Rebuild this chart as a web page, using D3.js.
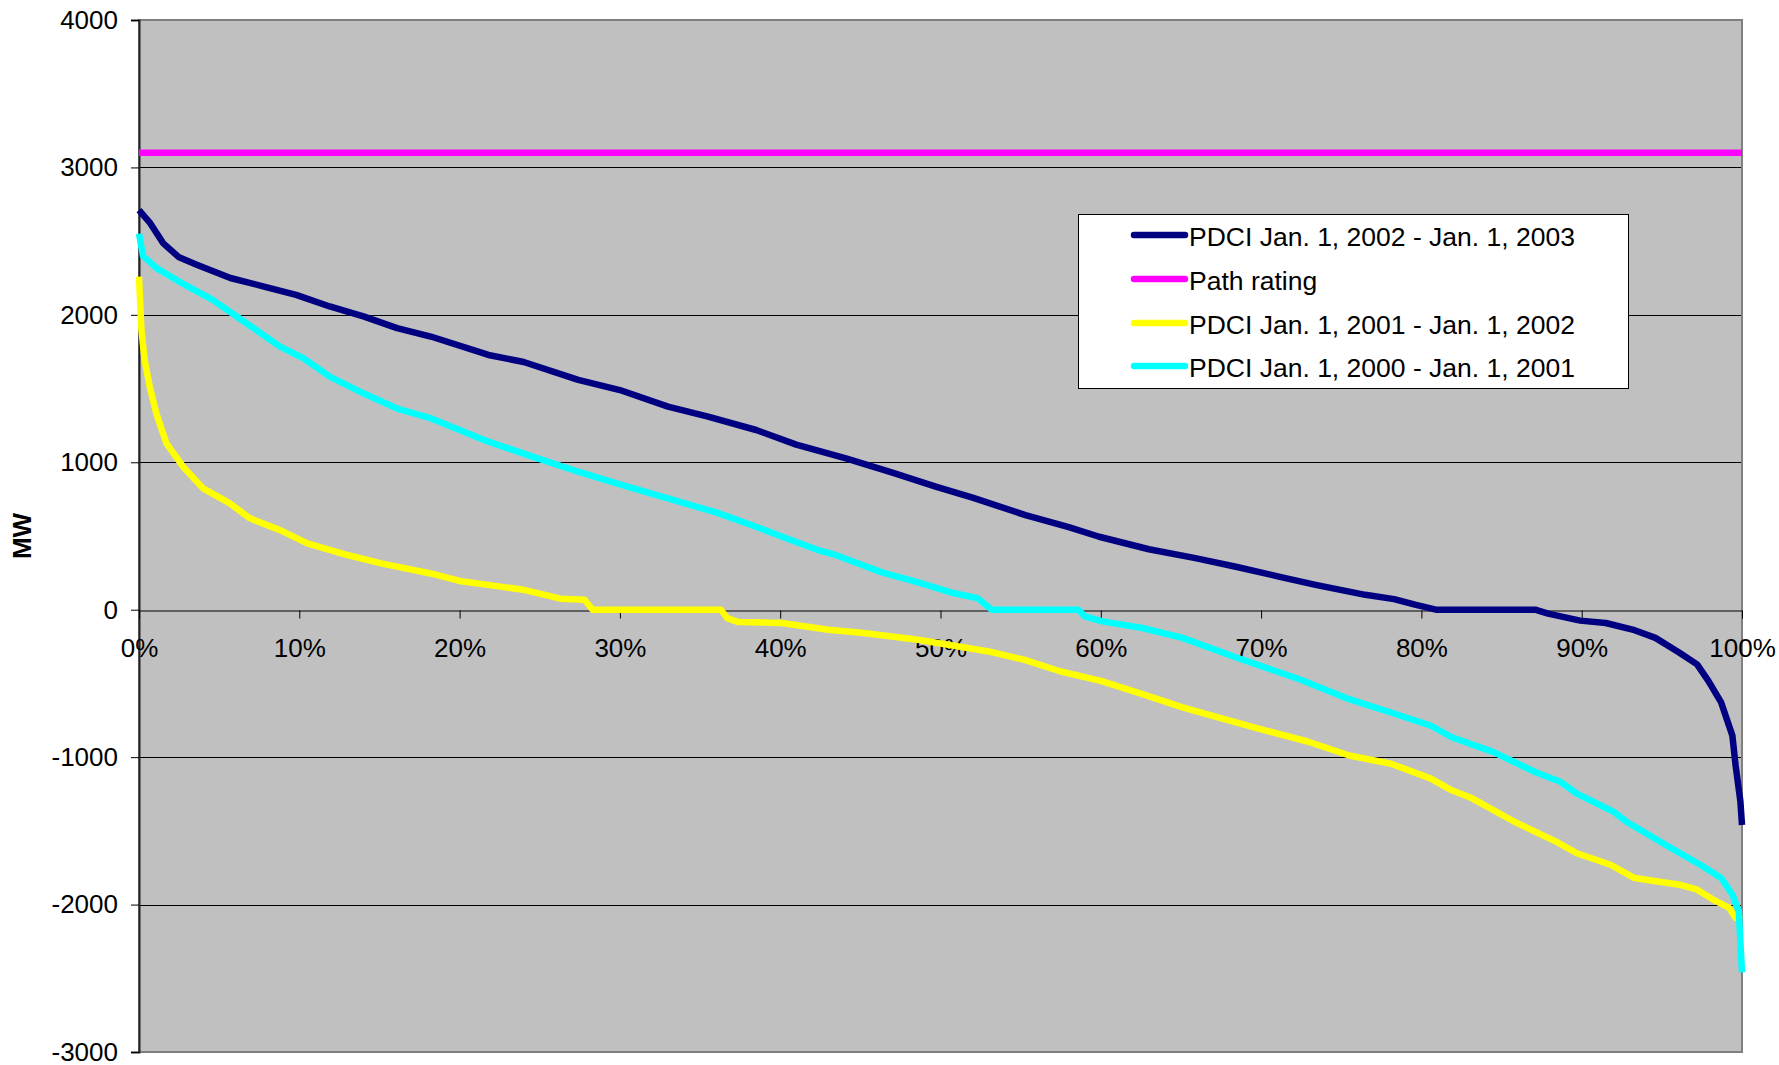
<!DOCTYPE html>
<html>
<head>
<meta charset="utf-8">
<script src="https://cdn.jsdelivr.net/npm/d3@7"></script>
<style>
  html, body { margin: 0; padding: 0; background: #fff; }
  svg { display: block; }
  text { font-family: "Liberation Sans", Arial, sans-serif; }
</style>
</head>
<body>
<svg id="chart" width="1779" height="1065"></svg>
<script>
// ---- data (x = percent of time, y = MW) ----
const yTicks = [4000, 3000, 2000, 1000, 0, -1000, -2000, -3000];
const xTicks = [0, 10, 20, 30, 40, 50, 60, 70, 80, 90, 100];

const seriesNames = [
  "PDCI Jan. 1, 2002 - Jan. 1, 2003",
  "Path rating",
  "PDCI Jan. 1, 2001 - Jan. 1, 2002",
  "PDCI Jan. 1, 2000 - Jan. 1, 2001"
];
const seriesColors = ["#000080", "#FF00FF", "#FFFF00", "#00FFFF"];

const pdci2002Pct = [0, 0.7, 1.5, 2.5, 3.6, 5.7, 7.8, 9.8, 11.9, 14.0, 16.1, 18.2, 21.8, 24, 27.4, 30, 33.0, 35.5, 38.5, 41, 44.1, 47, 49.7, 52, 55.3, 58, 59.9, 63, 65.9, 68.5, 71.1, 73.4, 76.5, 78.3, 79.6, 80.9, 87.1, 87.9, 89.9, 91.5, 93.3, 94.6, 96.1, 97.2, 97.9, 98.7, 99.4, 99.6, 99.9, 100];
const pdci2002MW  = [2710, 2622, 2487, 2390, 2340, 2250, 2192, 2136, 2057, 1990, 1910, 1853, 1728, 1680, 1559, 1490, 1378, 1310, 1219, 1120, 1027, 930, 835, 760, 642, 560, 495, 410, 350, 290, 225, 169, 101, 72, 34, 0, 0, -27, -74, -90, -139, -191, -292, -371, -483, -629, -854, -1056, -1300, -1460];

const pathRatingPct = [0, 100];
const pathRatingMW  = [3100, 3100];

const pdci2001Pct = [0, 0.15, 0.35, 0.67, 1.08, 1.71, 2.75, 4.0, 5.67, 6.92, 8.8, 10.5, 13.0, 15.1, 18.2, 20, 22, 24, 26.3, 27.8, 28.3, 36.3, 36.7, 37.4, 40.1, 43.0, 45.2, 48.6, 53.0, 55.2, 57.5, 60, 62.6, 65.1, 67.7, 70.3, 72.9, 75.5, 78.1, 80.6, 81.9, 83.2, 85.8, 88.4, 89.7, 91.8, 93.3, 96.1, 97.2, 98.2, 99.2, 99.6, 100];
const pdci2001MW  = [2260, 1900, 1695, 1513, 1332, 1129, 970, 823, 721, 620, 540, 450, 371, 314, 246, 195, 165, 135, 75, 68, 0, 0, -57, -84, -90, -136, -158, -204, -283, -339, -419, -483, -573, -663, -742, -820, -894, -989, -1045, -1146, -1225, -1281, -1438, -1573, -1652, -1730, -1820, -1865, -1899, -1966, -2022, -2090, -2100];

const pdci2000Pct = [0, 0.25, 1.1, 2.5, 4.6, 6.7, 8.8, 10.25, 11.9, 14.0, 16.2, 18.2, 21.8, 24.5, 27.4, 30, 33.0, 36, 38.5, 40.5, 42.4, 43.5, 46.3, 48.6, 50.8, 52.3, 53.2, 58.6, 59.0, 60.1, 62.6, 65.1, 68.5, 72.4, 75.5, 78.1, 80.6, 81.9, 84.5, 87.1, 88.7, 89.7, 92.0, 92.8, 95.6, 97.4, 98.7, 99.4, 99.8, 100];
const pdci2000MW  = [2550, 2400, 2317, 2226, 2102, 1943, 1785, 1706, 1581, 1468, 1360, 1299, 1140, 1040, 936, 850, 755, 660, 563, 480, 403, 370, 255, 185, 113, 79, 0, 0, -45, -79, -124, -191, -326, -472, -607, -697, -787, -865, -966, -1101, -1169, -1247, -1371, -1438, -1618, -1730, -1820, -1933, -2045, -2460];

// ---- layout ----
const plotL = 139, plotR = 1742, plotT = 20, plotB = 1052;
const svg = d3.select("#chart");

const x = d3.scaleLinear().domain([0, 100]).range([plotL, plotR]);
const y = d3.scaleLinear().domain([-3000, 4000]).range([plotB, plotT]);

// plot background
svg.append("rect")
  .attr("x", plotL).attr("y", plotT)
  .attr("width", plotR - plotL).attr("height", plotB - plotT)
  .attr("fill", "#C0C0C0");

// gridlines
svg.append("g")
  .selectAll("line")
  .data(yTicks.filter(d => d !== 4000 && d !== -3000 && d !== 0))
  .join("line")
  .attr("x1", plotL).attr("x2", plotR)
  .attr("y1", d => Math.round(y(d)) + 0.5).attr("y2", d => Math.round(y(d)) + 0.5)
  .attr("stroke", "#000").attr("stroke-width", 1);

// border (gray)
svg.append("rect")
  .attr("x", plotL).attr("y", plotT)
  .attr("width", plotR - plotL).attr("height", plotB - plotT)
  .attr("fill", "none").attr("stroke", "#808080").attr("stroke-width", 2);

// y axis
const yAxis = d3.axisLeft(y).tickValues(yTicks).tickSize(8).tickPadding(13).tickFormat(d3.format("d"));
const gy = svg.append("g").attr("transform", `translate(${plotL},0)`).call(yAxis);
gy.select(".domain").attr("stroke", "#222").attr("stroke-width", 2);
gy.selectAll(".tick line").attr("stroke", "#000");
gy.selectAll(".tick text")
  .attr("font-size", 26).attr("fill", "#000")
  .style("font-family", '"Liberation Sans", Arial, sans-serif')
  .text(d => d < 0 ? "-" + Math.abs(d) : d);

// x axis at y = 0
const xAxis = d3.axisBottom(x).tickValues(xTicks).tickSize(8).tickPadding(20).tickFormat(d => d + "%");
const gx = svg.append("g").attr("transform", `translate(0,${Math.round(y(0)) + 0.5})`).call(xAxis);
gx.select(".domain").attr("stroke", "#000").attr("stroke-width", 1);
gx.selectAll(".tick line").attr("stroke", "#000");
gx.selectAll(".tick text")
  .attr("font-size", 26).attr("fill", "#000")
  .style("font-family", '"Liberation Sans", Arial, sans-serif');

// y title
svg.append("text")
  .attr("transform", `translate(31,536) rotate(-90)`)
  .attr("text-anchor", "middle")
  .attr("font-size", 26).attr("font-weight", "bold")
  .text("MW");

// lines
const line = d3.line().x(d => x(d[0])).y(d => y(d[1]));
const seriesData = [
  d3.zip(pdci2002Pct, pdci2002MW),
  d3.zip(pathRatingPct, pathRatingMW),
  d3.zip(pdci2001Pct, pdci2001MW),
  d3.zip(pdci2000Pct, pdci2000MW)
];
svg.append("g")
  .selectAll("path")
  .data(seriesData)
  .join("path")
  .attr("d", line)
  .attr("fill", "none")
  .attr("stroke", (d, i) => seriesColors[i])
  .attr("stroke-width", 6.5)
  .attr("stroke-linejoin", "round");

// legend
const lg = svg.append("g");
lg.append("rect")
  .attr("x", 1078.5).attr("y", 214.5)
  .attr("width", 550).attr("height", 174)
  .attr("fill", "#fff").attr("stroke", "#000").attr("stroke-width", 1);
const rowY = [235, 279, 323, 366];
seriesNames.forEach((name, i) => {
  lg.append("line")
    .attr("x1", 1134).attr("x2", 1185)
    .attr("y1", rowY[i]).attr("y2", rowY[i])
    .attr("stroke", seriesColors[i]).attr("stroke-width", 6.5)
    .attr("stroke-linecap", "round");
  lg.append("text")
    .attr("x", 1189).attr("y", rowY[i] + 11)
    .attr("font-size", 26.5)
    .text(name);
});
</script>
</body>
</html>
